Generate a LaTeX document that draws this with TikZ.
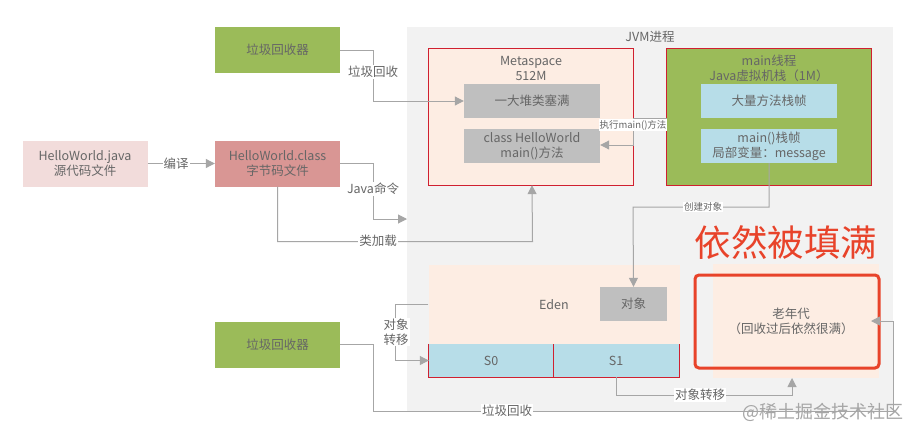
\documentclass[tikz,border=0pt]{standalone}
\usepackage{fontspec}
\setmainfont{Noto Sans CJK SC}
\usepackage{tikz}
\usetikzlibrary{arrows.meta,positioning}
\definecolor{boxtext}{HTML}{666666}
\definecolor{linegray}{HTML}{A6A6A6}
\definecolor{peach}{HTML}{FDEDE3}
\definecolor{leaf}{HTML}{9BBB59}
\definecolor{sky}{HTML}{B7DDE8}
\definecolor{stone}{HTML}{BFBFBF}
\definecolor{brick}{HTML}{D99694}
\definecolor{blush}{HTML}{F2DCDB}
\definecolor{framered}{HTML}{D02030}
\definecolor{alarm}{HTML}{E8432A}
\tikzset{
	plain/.style={inner sep=0pt,text=boxtext,align=center,font=\fontsize{12.5}{15}\selectfont},
	blockbox/.style={plain,minimum width=#1,minimum height=34pt},
	blockbox/.default=136pt,
	outerbox/.style={plain,minimum width=125pt,minimum height=46pt},
	framebox/.style={plain,minimum width=204pt,minimum height=136pt},
	survivor/.style={plain,fill=sky,minimum height=33pt},
	redline/.style={draw=framered,line width=1.2pt},
	tag/.style={plain,fill=white,inner sep=1pt},
	smalltag/.style={tag,font=\fontsize{9.5}{12}\selectfont},
	link/.style={draw=linegray,line width=1pt,-{Triangle[length=9pt,width=9pt]}}
}
\begin{document}
\begin{tikzpicture}[x=1pt,y=-1pt,on grid]
	\useasboundingbox (0,0) rectangle (917,437);
	\fill[white] (0,0) rectangle (917,437);
	\node[plain,fill=black!5,minimum width=486pt,minimum height=384pt] (jvm) at (650,219) {};
	\node[plain] (jvm_title) at (650,37) {JVM进程};
	% left column
	\node[outerbox,fill=leaf] (gc_1) at (277.5,50) {垃圾回收器};
	\node[outerbox,fill=brick] (class_file) [below=113.5pt of gc_1] {HelloWorld.class\\字节码文件};
	\node[outerbox,fill=blush] (java_file) [left=192.5pt of class_file] {HelloWorld.java\\源代码文件};
	\node[outerbox,fill=leaf] (gc_2) [below=181pt of class_file] {垃圾回收器};
	% metaspace and main thread
	\node[framebox,fill=peach] (metaspace) at (531,117) {};
	\draw[redline] (metaspace.north west) rectangle (metaspace.south east);
	\node[plain] (metaspace_title) at (531,68.5) {Metaspace\\512M};
	\node[blockbox,fill=stone] (full_block) at (532,101) {一大堆类塞满};
	\node[blockbox,fill=stone] (hello_block) [below=45pt of full_block] {class HelloWorld\\main()方法};
	\node[framebox,fill=leaf] (main_thread) [right=238pt of metaspace] {};
	\draw[redline] (main_thread.north west) rectangle (main_thread.south east);
	\node[plain] (main_title) at (769,68.5) {main线程\\Java虚拟机栈（1M）};
	\node[blockbox,fill=sky] (frames) at (769,101) {大量方法栈帧};
	\node[blockbox,fill=sky] (main_frame) [below=45pt of frames] {main()栈帧\\局部变量：message};
	% heap
	\node[survivor,minimum width=124pt] (s_0) at (491,360.5) {S0};
	\node[survivor,minimum width=126pt] (s_1) [right=125pt of s_0] {S1};
	\draw[redline] (s_0.north west) |- (s_1.south east) -- (s_1.north east);
	\draw[redline] (s_0.south east) -- (s_0.north east);
	\node[plain,fill=peach,minimum width=251pt,minimum height=79pt] (eden) at (554,304.5) {Eden};
	\node[blockbox=67pt,fill=stone] (object) at (633.5,304) {对象};
	\node[plain,fill=peach,minimum width=166pt,minimum height=114pt] (old_gen) at (796,321) {};
	\node[plain,draw=alarm,line width=3pt,rounded corners=4pt,minimum width=184pt,minimum height=93pt] (old_frame) at (787,321.5) {};
	\node[plain] (old_text) at (791,321) {老年代\\（回收过后依然很满）};
	\node[plain,text=alarm,font=\fontsize{36.5}{40}\selectfont] (alarm_text) at (786,243) {依然被填满};
	% free ends
	\coordinate (jvm_in) at (407,219);
	\coordinate (old_in) at (792,378);
	\coordinate (old_tip) at (871,321);
	% connectors
	\draw[link] (gc_1.east) -- ++(33,0) |- (full_block.west);
	\node[tag] (gc_1_tag) at (373,72) {垃圾回收};
	\draw[link] (java_file.east) -- (class_file.west);
	\node[tag] (compile_tag) at (176,163.5) {编译};
	\draw[link] (class_file.east) -- ++(33,0) |- (jvm_in);
	\node[tag] (java_tag) at (373,189) {Java命令};
	\draw[link] (class_file.south) |- ++(255,55) -- (metaspace.south -| 532,185);
	\node[tag] (load_tag) at (378,241) {类加载};
	\draw[link] (main_thread.west |- 0,118) -- (633,118) |- (hello_block.east |- 0,145);
	\node[smalltag] (run_tag) at (633,125) {执行main()方法};
	\draw[link] (main_frame.south) |- (633,207) -- (object.north);
	\node[smalltag] (create_tag) at (703,207) {创建对象};
	\draw[link] (eden.west) -- ++(-33,0) |- (s_0.west);
	\node[tag] (move_tag_1) at (396,332) {对象\\转移};
	\draw[link] (s_1.south) |- (792,395) -- (old_in);
	\node[tag] (move_tag_2) at (700,395) {对象转移};
	\draw[link] (gc_2.east) -- ++(33,0) |- (893,411) |- (old_tip);
	\node[tag] (gc_2_tag) at (507,411) {垃圾回收};
	\node[plain,text=black!35,font=\fontsize{18}{20}\selectfont,anchor=east] (mark_text) at (904,412) {@稀土掘金技术社区};
\end{tikzpicture}
\end{document}
